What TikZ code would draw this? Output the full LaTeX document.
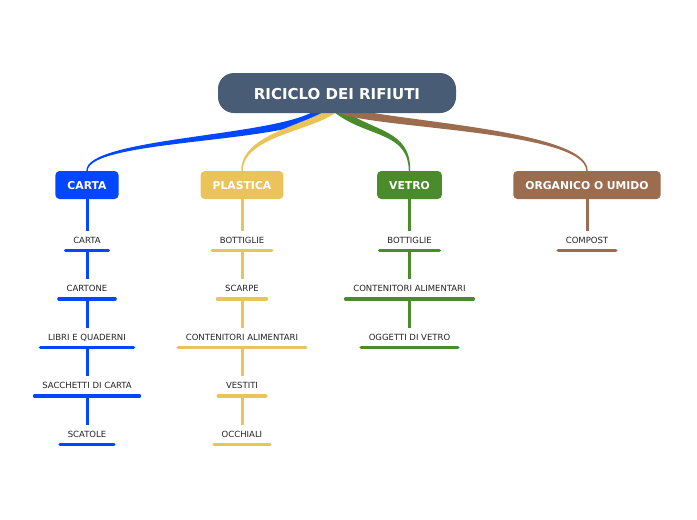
\documentclass[tikz,border=0pt]{standalone}
\usepackage{fontspec}
\setmainfont{DejaVu Sans}
\usetikzlibrary{calc}
\definecolor{cTitle}{HTML}{485C75}
\definecolor{cBlue}{HTML}{0047FF}
\definecolor{cYel}{HTML}{EAC45A}
\definecolor{cGreen}{HTML}{4A8B2C}
\definecolor{cBrown}{HTML}{9C6C4E}
\definecolor{cText}{HTML}{222222}
% #1 colour, #2 start, #3 control 1, #4 control 2, #5 end node, #6 side (+1/-1), #7 half width at start, #8 angle (+90/-90)
\newcommand\taper[8]{%
  \coordinate (sA) at ($(#2)!#7pt!#8:(#3)$);
  \coordinate (sB) at ($(#2)!#7pt!-#8:(#3)$);
  \fill[#1] (sA) .. controls ($(#3)+(sA)-(#2)$) and ($(#4)+(#6*1.4,-1.4)$) .. ($(#5.north)+(#6*0.7,0)$)
    -- ($(#5.north)+(-#6*0.7,0)$) .. controls ($(#4)+(-#6*1.4,1.4)$) and ($(#3)+(sB)-(#2)$) .. (sB) -- cycle;}
\newcommand\mkcol[4]{%
  \foreach \t [count=\i] in {#4} {
    \node[item] (#1\i) at (#2, {243.3+48.5*(\i-1)}) {\t};
    \draw[ul=#3] ([yshift=-7pt]#1\i.base west) -- ([yshift=-7pt]#1\i.base east);
    \coordinate (#1u\i) at ([yshift=-7pt]#1\i.base);
  }}
\begin{document}
\begin{tikzpicture}[x=1pt,y=-1pt,
  cat/.style={fill=#1, text=white, font=\fontsize{10.8}{12}\selectfont\bfseries,
    rounded corners=4pt, minimum height=28pt, inner xsep=12pt, inner ysep=0pt, text depth=0pt},
  item/.style={text=cText, font=\fontsize{8.5}{10}\selectfont, text height=6.2pt,
    text depth=0pt, inner xsep=7.5pt, inner ysep=6pt, anchor=base},
  ul/.style={draw=#1, line width=3.5pt, line cap=round},
  vline/.style={draw=#1, line width=3pt}]
\useasboundingbox (0,0) rectangle (697,520);

\node[cat=cBlue]  (carta) at (87,185) {CARTA};
\node[cat=cYel]   (plast) at (242,185) {PLASTICA};
\node[cat=cGreen] (vetro) at (409.5,185) {VETRO};
\node[cat=cBrown] (organ) at (587,185) {ORGANICO O UMIDO};

\taper{cBlue}{322,111}{290,140}{87,138}{carta}{-1}{4.5}{-90}
\taper{cYel}{333,110}{310,128}{242,135}{plast}{-1}{3.5}{-90}
\taper{cGreen}{337,110}{370,135}{409.5,130}{vetro}{1}{3.5}{90}
\taper{cBrown}{342,110}{382,125}{587,130}{organ}{1}{4}{90}

\node[fill=cTitle, text=white, font=\fontsize{15}{16}\selectfont\bfseries, text height=13pt, text depth=0pt,
  rounded corners=16pt, minimum width=238pt, minimum height=40pt] (title) at (337,93) {RICICLO DEI RIFIUTI};

\mkcol{a}{87}{cBlue}{CARTA,CARTONE,LIBRI E QUADERNI,SACCHETTI DI CARTA,SCATOLE}
\mkcol{b}{242}{cYel}{BOTTIGLIE,SCARPE,CONTENITORI ALIMENTARI,VESTITI,OCCHIALI}
\mkcol{c}{409.5}{cGreen}{BOTTIGLIE,CONTENITORI ALIMENTARI,OGGETTI DI VETRO}
\mkcol{d}{587}{cBrown}{COMPOST}

\draw[vline=cBlue] (carta.south) -- (a1.north);
\foreach \i/\j in {1/2,2/3,3/4,4/5} \draw[vline=cBlue] (au\i) -- (a\j.north);
\draw[vline=cYel] (plast.south) -- (b1.north);
\foreach \i/\j in {1/2,2/3,3/4,4/5} \draw[vline=cYel] (bu\i) -- (b\j.north);
\draw[vline=cGreen] (vetro.south) -- (c1.north);
\foreach \i/\j in {1/2,2/3} \draw[vline=cGreen] (cu\i) -- (c\j.north);
\draw[vline=cBrown] (organ.south) -- (d1.north);
\end{tikzpicture}
\end{document}
